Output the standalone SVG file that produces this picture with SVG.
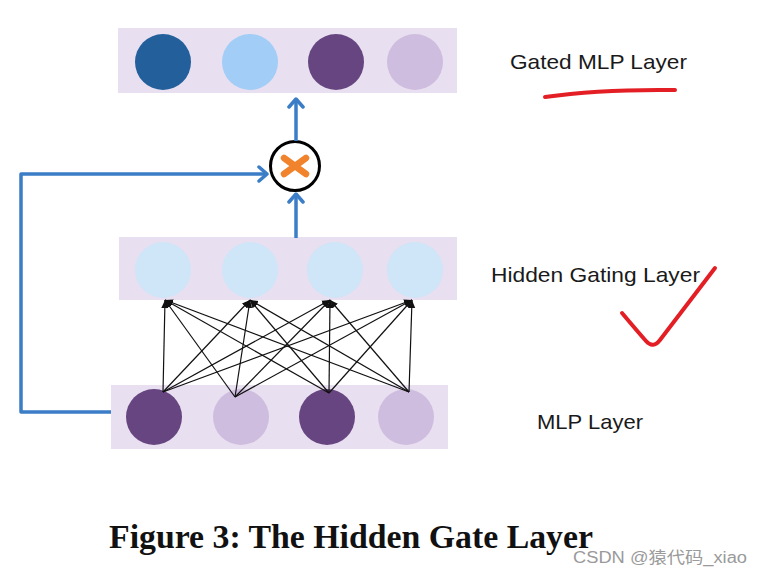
<svg xmlns="http://www.w3.org/2000/svg" width="762" height="578" viewBox="0 0 762 578">
<style>
.band{fill:#E8DFF0}
.blue{stroke:#3B7DC6;stroke-width:3.5;fill:none;stroke-linejoin:round}
.mesh{stroke:#111;stroke-width:1.2;fill:none}
.lbl{font-family:"Liberation Sans",Arial,sans-serif;font-size:21px;fill:#1a1a1a}
.red{stroke:#E31E24;stroke-width:4;fill:none;stroke-linecap:round;stroke-linejoin:round}
</style>
<defs>
<marker id="chev" markerUnits="userSpaceOnUse" markerWidth="20" markerHeight="20" refX="10" refY="10" orient="auto">
<path d="M2,3 L10,10 L2,17" fill="none" stroke="#3B7DC6" stroke-width="3.5" stroke-linecap="round" stroke-linejoin="round"/>
</marker>
<marker id="tri" markerUnits="userSpaceOnUse" markerWidth="10" markerHeight="10" refX="8" refY="5" orient="auto">
<path d="M0,1.5 L8,5 L0,8.5 Z" fill="#111"/>
</marker>
</defs>
<rect width="762" height="578" fill="#fff"/>

<g id="gated-mlp-layer">
<rect class="band" x="118" y="28" width="339" height="65"/>
<circle cx="163" cy="62" r="28" fill="#23609B"/>
<circle cx="250" cy="62" r="28" fill="#A1CDF6"/>
<circle cx="336" cy="62" r="28" fill="#674581"/>
<circle cx="415" cy="62" r="28" fill="#CFBDDF"/>
</g>

<g id="hidden-gating-layer">
<rect class="band" x="119" y="237" width="338" height="63"/>
<circle cx="163" cy="270" r="28" fill="#CFE5F8"/>
<circle cx="250" cy="270" r="28" fill="#CFE5F8"/>
<circle cx="335" cy="270" r="28" fill="#CFE5F8"/>
<circle cx="415" cy="270" r="28" fill="#CFE5F8"/>
</g>

<g id="mlp-layer">
<rect class="band" x="111" y="385" width="337" height="64"/>
<circle cx="154" cy="417" r="28" fill="#674581"/>
<circle cx="241" cy="417" r="28" fill="#CFBDDF"/>
<circle cx="327" cy="417" r="28" fill="#674581"/>
<circle cx="406" cy="417" r="28" fill="#CFBDDF"/>
</g>

<g id="multiply">
<circle cx="295" cy="166" r="24.5" fill="#fff" stroke="#000" stroke-width="3"/>
<path d="M284,158 L306,174 M306,158 L284,174" stroke="#F0832B" stroke-width="6.5" stroke-linecap="round"/>
</g>

<g id="connectors">
<path class="blue" d="M296,141 L296,99" marker-end="url(#chev)"/>
<path class="blue" d="M296,238 L296,194" marker-end="url(#chev)"/>
<path class="blue" d="M111,412 L21,412 L21,174 L267,174" marker-end="url(#chev)"/>
<g class="mesh">
<line x1="163" y1="392" x2="165" y2="300" marker-end="url(#tri)"/>
<line x1="163" y1="392" x2="250" y2="300" marker-end="url(#tri)"/>
<line x1="163" y1="392" x2="330" y2="300" marker-end="url(#tri)"/>
<line x1="163" y1="392" x2="412" y2="300" marker-end="url(#tri)"/>
<line x1="235" y1="397" x2="165" y2="300" marker-end="url(#tri)"/>
<line x1="235" y1="397" x2="250" y2="300" marker-end="url(#tri)"/>
<line x1="235" y1="397" x2="330" y2="300" marker-end="url(#tri)"/>
<line x1="235" y1="397" x2="412" y2="300" marker-end="url(#tri)"/>
<line x1="329" y1="393" x2="165" y2="300" marker-end="url(#tri)"/>
<line x1="329" y1="393" x2="250" y2="300" marker-end="url(#tri)"/>
<line x1="329" y1="393" x2="330" y2="300" marker-end="url(#tri)"/>
<line x1="329" y1="393" x2="412" y2="300" marker-end="url(#tri)"/>
<line x1="409" y1="392" x2="165" y2="300" marker-end="url(#tri)"/>
<line x1="409" y1="392" x2="250" y2="300" marker-end="url(#tri)"/>
<line x1="409" y1="392" x2="330" y2="300" marker-end="url(#tri)"/>
<line x1="409" y1="392" x2="412" y2="300" marker-end="url(#tri)"/>
</g>
</g>

<g id="labels">
<text class="lbl" x="510" y="69" textLength="177" lengthAdjust="spacingAndGlyphs">Gated MLP Layer</text>
<text class="lbl" x="491" y="282" textLength="209" lengthAdjust="spacingAndGlyphs">Hidden Gating Layer</text>
<text class="lbl" x="537" y="429" textLength="106" lengthAdjust="spacingAndGlyphs">MLP Layer</text>
</g>

<g id="annotations">
<path class="red" d="M545,97 Q600,89 675,90"/>
<path class="red" d="M622,313 Q638,332 646,341 Q653,349 660,340 L715,268"/>
</g>

<text x="109" y="548" font-family="'Liberation Serif','Times New Roman',serif" font-weight="bold" font-size="33" fill="#111" textLength="484" lengthAdjust="spacingAndGlyphs">Figure 3: The Hidden Gate Layer</text>
<text x="573" y="563" font-family="'Liberation Sans','Noto Sans CJK SC',sans-serif" font-size="16" fill="#9a9a9a" textLength="174" lengthAdjust="spacingAndGlyphs">CSDN @猿代码_xiao</text>
</svg>
